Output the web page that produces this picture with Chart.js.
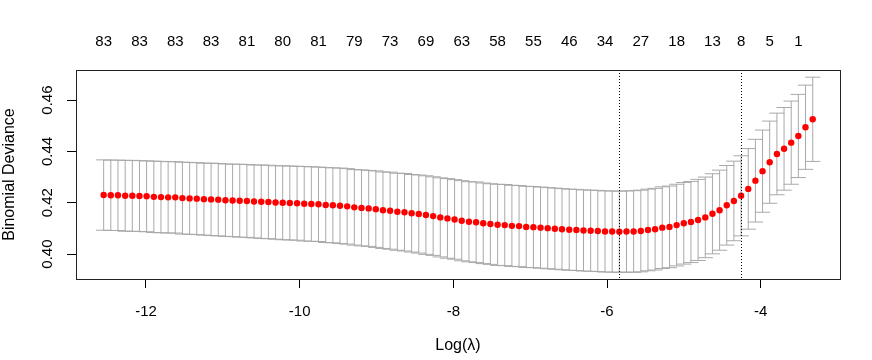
<!DOCTYPE html>
<html>
<head>
<meta charset="utf-8">
<script src="https://cdn.jsdelivr.net/npm/chart.js@4"></script>
<style>
  body { margin: 0; background: #fff; }
  #wrap { width: 872px; height: 360px; }
</style>
</head>
<body>
<div id="wrap"><canvas id="cvChart"></canvas></div>
<script>
// log(lambda) path, 100 values
const logLambda = [
  -12.551, -12.458, -12.365, -12.271, -12.178, -12.085, -11.992, -11.898, -11.805, -11.712,
  -11.619, -11.526, -11.432, -11.339, -11.246, -11.153, -11.060, -10.966, -10.873, -10.780,
  -10.687, -10.594, -10.500, -10.407, -10.314, -10.221, -10.128, -10.034, -9.941, -9.848,
  -9.755, -9.661, -9.568, -9.475, -9.382, -9.289, -9.195, -9.102, -9.009, -8.916,
  -8.823, -8.729, -8.636, -8.543, -8.450, -8.357, -8.263, -8.170, -8.077, -7.984,
  -7.891, -7.797, -7.704, -7.611, -7.518, -7.424, -7.331, -7.238, -7.145, -7.052,
  -6.958, -6.865, -6.772, -6.679, -6.586, -6.492, -6.399, -6.306, -6.213, -6.120,
  -6.026, -5.933, -5.840, -5.747, -5.654, -5.560, -5.467, -5.374, -5.281, -5.187,
  -5.094, -5.001, -4.908, -4.815, -4.721, -4.628, -4.535, -4.442, -4.349, -4.255,
  -4.162, -4.069, -3.976, -3.883, -3.789, -3.696, -3.603, -3.510, -3.417, -3.323
];

// mean cross-validated deviance
const cvm = [
  0.4230, 0.4229, 0.4229, 0.4227, 0.4227, 0.4226, 0.4225, 0.4223, 0.4222, 0.4221,
  0.4221, 0.4218, 0.4217, 0.4216, 0.4214, 0.4213, 0.4212, 0.4210, 0.4209, 0.4208,
  0.4207, 0.4205, 0.4204, 0.4203, 0.4201, 0.4200, 0.4199, 0.4198, 0.4196, 0.4195,
  0.4194, 0.4191, 0.4190, 0.4188, 0.4186, 0.4182, 0.4180, 0.4178, 0.4175, 0.4171,
  0.4169, 0.4165, 0.4163, 0.4159, 0.4156, 0.4152, 0.4148, 0.4143, 0.4139, 0.4135,
  0.4130, 0.4126, 0.4124, 0.4120, 0.4117, 0.4114, 0.4113, 0.4110, 0.4109, 0.4106,
  0.4105, 0.4103, 0.4101, 0.4099, 0.4097, 0.4095, 0.4094, 0.4092, 0.4091, 0.4090,
  0.4088, 0.4088, 0.4087, 0.4088, 0.4088, 0.4090, 0.4094, 0.4097, 0.4103, 0.4106,
  0.4113, 0.4120, 0.4125, 0.4133, 0.4143, 0.4157, 0.4171, 0.4190, 0.4207, 0.4227,
  0.4254, 0.4286, 0.4323, 0.4358, 0.4390, 0.4410, 0.4434, 0.4460, 0.4494, 0.4525
];

// standard error (half length of each bar)
const cvsd = [
  0.0137, 0.0137, 0.0137, 0.0138, 0.0138, 0.0138, 0.0138, 0.0139, 0.0139, 0.0139,
  0.0139, 0.0140, 0.0140, 0.0140, 0.0140, 0.0141, 0.0141, 0.0141, 0.0141, 0.0142,
  0.0142, 0.0142, 0.0143, 0.0143, 0.0143, 0.0144, 0.0144, 0.0144, 0.0145, 0.0145,
  0.0145, 0.0146, 0.0146, 0.0147, 0.0147, 0.0147, 0.0148, 0.0148, 0.0149, 0.0149,
  0.0150, 0.0150, 0.0151, 0.0151, 0.0152, 0.0153, 0.0153, 0.0154, 0.0155, 0.0155,
  0.0156, 0.0156, 0.0157, 0.0157, 0.0157, 0.0158, 0.0158, 0.0158, 0.0158, 0.0158,
  0.0158, 0.0158, 0.0158, 0.0158, 0.0158, 0.0158, 0.0158, 0.0158, 0.0158, 0.0158,
  0.0158, 0.0158, 0.0158, 0.0158, 0.0159, 0.0159, 0.0159, 0.0159, 0.0159, 0.0159,
  0.0159, 0.0159, 0.0158, 0.0158, 0.0157, 0.0156, 0.0156, 0.0155, 0.0155, 0.0156,
  0.0157, 0.0161, 0.0160, 0.0160, 0.0159, 0.0161, 0.0162, 0.0162, 0.0164, 0.0164
];

const xTicks = [-12, -10, -8, -6, -4];
const yTicks = [0.40, 0.42, 0.44, 0.46];

// number of nonzero coefficients shown along the top
const nzeroIdx = [0, 5, 10, 15, 20, 25, 30, 35, 40, 45, 50, 55, 60, 65, 70, 75, 80, 85, 89, 93, 97];
const nzeroLabels = [83, 83, 83, 83, 81, 80, 81, 79, 73, 69, 63, 58, 55, 46, 34, 27, 18, 13, 8, 5, 1];

const lambdaMinIdx = 72;
const lambda1seIdx = 89;

const FONT = { family: '"Liberation Sans", Arial, sans-serif', size: 15 };
const TITLE_FONT = { family: FONT.family, size: 16 };
const X_MIN = -12.911, X_MAX = -2.968;

const cvPlugin = {
    id: 'cvPlot',
    beforeDatasetsDraw(chart) {
        const { ctx, scales: { x, y } } = chart;
        const capW = 0.01 * (X_MAX - X_MIN);
        ctx.save();
        ctx.strokeStyle = '#a9a9a9';
        ctx.lineWidth = 1;
        ctx.beginPath();
        logLambda.forEach((lx, i) => {
            const px = x.getPixelForValue(lx);
            const pl = x.getPixelForValue(lx - capW);
            const pr = x.getPixelForValue(lx + capW);
            const top = y.getPixelForValue(cvm[i] + cvsd[i]);
            const bot = y.getPixelForValue(cvm[i] - cvsd[i]);
            ctx.moveTo(px, top); ctx.lineTo(px, bot);
            ctx.moveTo(pl, top); ctx.lineTo(pr, top);
            ctx.moveTo(pl, bot); ctx.lineTo(pr, bot);
        });
        ctx.stroke();
        ctx.restore();
    },
    afterDatasetsDraw(chart) {
        const { ctx, chartArea: a, scales: { x } } = chart;
        ctx.save();
        ctx.strokeStyle = '#000';
        ctx.lineWidth = 1;
        ctx.setLineDash([1, 2]);
        [lambdaMinIdx, lambda1seIdx].forEach(i => {
            const px = Math.round(x.getPixelForValue(logLambda[i])) + 0.5;
            ctx.beginPath();
            ctx.moveTo(px, a.top);
            ctx.lineTo(px, a.bottom);
            ctx.stroke();
        });
        ctx.setLineDash([]);
        ctx.strokeStyle = '#222';
        ctx.strokeRect(a.left + 0.5, a.top + 0.5, a.right - a.left, a.bottom - a.top);
        ctx.restore();
    }
};

new Chart(document.getElementById('cvChart').getContext('2d'), {
    type: 'scatter',
    data: {
        datasets: [{
            data: logLambda.map((lx, i) => ({ x: lx, y: cvm[i] })),
            backgroundColor: '#ff0000',
            borderWidth: 0,
            pointRadius: 3.2,
            showLine: false
        }]
    },
    options: {
        responsive: true,
        maintainAspectRatio: false,
        animation: false,
        layout: { padding: { left: 0, right: 32, top: 0, bottom: 0 } },
        plugins: {
            legend: { display: false },
            tooltip: { enabled: false }
        },
        scales: {
            x: {
                type: 'linear',
                position: 'bottom',
                min: X_MIN,
                max: X_MAX,
                afterBuildTicks: s => { s.ticks = xTicks.map(v => ({ value: v })); },
                afterFit: s => { s.height = 81; },
                border: { display: false },
                grid: { drawOnChartArea: false, drawTicks: true, tickLength: 9, color: '#000' },
                ticks: { color: '#000', font: FONT, padding: 15, maxRotation: 0, autoSkip: false },
                title: { display: true, text: 'Log(λ)', color: '#000', font: TITLE_FONT, padding: { top: 5, bottom: 5 } }
            },
            x2: {
                type: 'linear',
                position: 'top',
                min: X_MIN,
                max: X_MAX,
                afterBuildTicks: s => { s.ticks = nzeroIdx.map(i => ({ value: logLambda[i] })); },
                afterFit: s => { s.height = 70; },
                border: { display: false },
                grid: { display: false, drawTicks: false },
                ticks: {
                    color: '#000', font: FONT, padding: 19, maxRotation: 0, autoSkip: false,
                    callback: (v, i) => String(nzeroLabels[i])
                }
            },
            y: {
                min: 0.3903,
                max: 0.4717,
                afterBuildTicks: s => { s.ticks = yTicks.map(v => ({ value: v })); },
                afterFit: s => { s.width = 76; },
                border: { display: false },
                grid: { drawOnChartArea: false, drawTicks: true, tickLength: 9, color: '#000' },
                ticks: {
                    color: '#000', font: FONT, padding: 5, minRotation: 90, maxRotation: 90,
                    crossAlign: 'center', callback: v => v.toFixed(2)
                },
                title: { display: true, text: 'Binomial Deviance', color: '#000', font: TITLE_FONT, padding: { top: 0, bottom: 1 } }
            }
        }
    },
    plugins: [cvPlugin]
});
</script>
</body>
</html>
